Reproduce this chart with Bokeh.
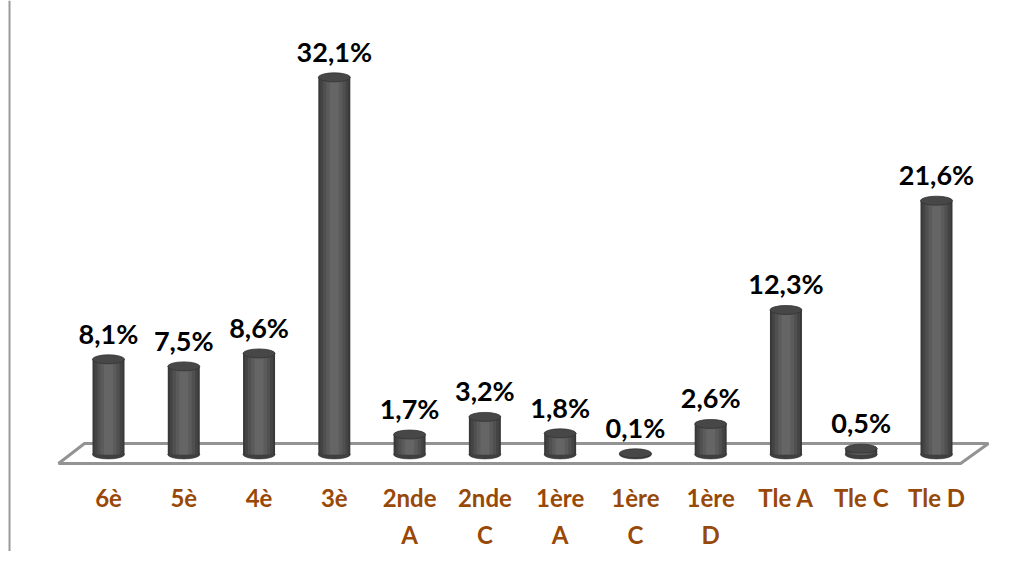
from bokeh.plotting import figure
from bokeh.models import Range1d, Span, ColumnDataSource
from bokeh.core.properties import value
from bokeh.embed import file_html
from bokeh.resources import INLINE

categories = ["6è", "5è", "4è", "3è", "2nde\nA", "2nde\nC", "1ère\nA", "1ère\nC", "1ère\nD", "Tle A", "Tle C", "Tle D"]
values = [8.1, 7.5, 8.6, 32.1, 1.7, 3.2, 1.8, 0.1, 2.6, 12.3, 0.5, 21.6]
labels = ["8,1%", "7,5%", "8,6%", "32,1%", "1,7%", "3,2%", "1,8%", "0,1%", "2,6%", "12,3%", "0,5%", "21,6%"]

line1 = [c.split("\n")[0] for c in categories]
line2 = [c.split("\n")[1] if "\n" in c else "" for c in categories]

xs = list(range(len(values)))
src = ColumnDataSource(dict(x=xs, v=values, lab=labels, l1=line1, l2=line2, zero=[0] * len(values)))

W, H = 1017, 551
p = figure(width=W, height=H, output_backend="svg", toolbar_location=None,
           x_range=Range1d(-1.4348, 12.076), y_range=Range1d(-8.255, 38.64),
           min_border=0, outline_line_color=None)
p.axis.visible = False
p.grid.visible = False
p.background_fill_color = "white"

# left frame line
p.add_layout(Span(location=-1.315, dimension="height", line_color="#9a9a9a", line_width=2))

# floor platform
p.patch([-0.319, 11.69, 11.32, -0.664], [0.936, 0.936, -0.766, -0.766],
        fill_color="white", line_color="#939393", line_width=3)

bw = 0.425
# bottom ellipse
p.ellipse(x="x", y="zero", width=32, height=9, width_units="screen", height_units="screen",
          source=src, fill_color="#3f3f3f", line_color="#333333", line_width=0.5)
# cylinder body with shading strips
shades = [(1.0, "#383838"), (0.88, "#444444"), (0.7, "#505050"), (0.5, "#5b5b5b"), (0.28, "#656565")]
for frac, col in shades:
    p.vbar(x="x", bottom="zero", top="v", width=bw * frac, source=src,
           fill_color=col, line_color=None)
# top ellipse
p.ellipse(x="x", y="v", width=32, height=9, width_units="screen", height_units="screen",
          source=src, fill_color="#474747", line_color="#333333", line_width=0.8)

# value labels
p.text(x="x", y="v", text="lab", source=src, text_align="center", text_baseline="middle",
       y_offset=-26, text_font=value("Lato"), text_font_style="bold",
       text_font_size="27px", text_color="black")

# category labels (two lines)
for col, off in (("l1", 43), ("l2", 80)):
    p.text(x="x", y="zero", text=col, source=src, text_align="center", text_baseline="middle",
           y_offset=off, text_font=value("Lato"), text_font_style="bold",
           text_font_size="24px", text_color="#984807")

open("out.html", "w").write(file_html(p, INLINE))
